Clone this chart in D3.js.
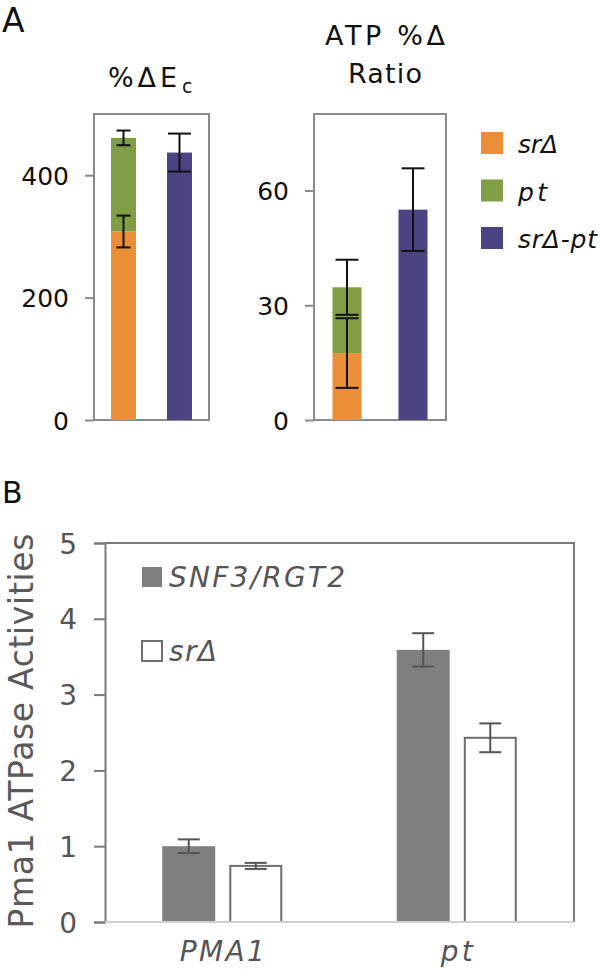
<!DOCTYPE html>
<html>
<head>
<meta charset="utf-8">
<script src="https://cdn.jsdelivr.net/npm/d3@7"></script>
<style>
  body { margin: 0; background: #fff; }
  svg { display: block; font-family: "DejaVu Sans", sans-serif; }
</style>
</head>
<body>
<svg id="chart" width="600" height="974"></svg>
<script>
// ---------- DATA ----------
// Panel A legend series
const aSeries = ["srΔ", "pt", "srΔ-pt"];
// %ΔEc : stacked bar (srΔ, pt) and combined bar (srΔ-pt)
const ecStack = [308, 153];
const ecStackErr = [26, 12];
const ecCombined = [437];
const ecCombinedErr = [31];
const ecTicks = [0, 200, 400];
// ATP %Δ Ratio
const atpStack = [17.5, 17.2];
const atpStackErr = [9.1, 7.2];
const atpCombined = [55];
const atpCombinedErr = [10.8];
const atpTicks = [0, 30, 60];
// Panel B
const bCategories = ["PMA1", "pt"];
const bSeries = ["SNF3/RGT2", "srΔ"];
const bValues = [[1.00, 0.74], [3.59, 2.43]];
const bErrors = [[0.09, 0.04], [0.22, 0.19]];
const bTicks = [0, 1, 2, 3, 4, 5];

// ---------- STYLE ----------
const FONT = "'DejaVu Sans', sans-serif";
const aColors = ["#EA8F37", "#7F9E45", "#4B4482"];
const aLegendWidths = [40, 29, 79];
const bLegendWidths = [176, 48];
const bCatWidths = [85, 32];
const svg = d3.select("#chart");

// ---------- PANEL A ----------
function panelA(cfg) {
  const g = svg.append("g");
  const y = d3.scaleLinear().domain(cfg.domain).range([420, 114]);
  const x = d3.scaleBand().domain(["stack", "combined"])
    .range([cfg.x0, cfg.x1]).paddingInner(cfg.pin).paddingOuter(cfg.pout);

  g.append("rect").attr("x", cfg.x0).attr("y", 114)
    .attr("width", cfg.x1 - cfg.x0).attr("height", 306)
    .attr("fill", "none").attr("stroke", "#8a8a8a").attr("stroke-width", 2);

  const ax = g.append("g").attr("transform", `translate(${cfg.x0},0)`)
    .call(d3.axisLeft(y).tickValues(cfg.ticks).tickSize(9).tickPadding(cfg.pad));
  ax.select(".domain").remove();
  ax.selectAll(".tick line").attr("stroke", "#8a8a8a").attr("stroke-width", 2);
  ax.selectAll(".tick text").attr("fill", "#111").style("font-size", "25px")
    .style("font-family", FONT).attr("dy", "0.36em");

  let cum = 0;
  const stackData = cfg.stack.map((v, i) => { const d = {i, y0: cum, y1: cum + v, err: cfg.stackErr[i]}; cum += v; return d; });
  g.selectAll(".sb").data(stackData).join("rect")
    .attr("x", x("stack")).attr("width", x.bandwidth())
    .attr("y", d => y(d.y1)).attr("height", d => y(d.y0) - y(d.y1))
    .attr("fill", d => aColors[d.i]);
  g.selectAll(".cb").data(cfg.combined).join("rect")
    .attr("x", x("combined")).attr("width", x.bandwidth())
    .attr("y", d => y(d)).attr("height", d => y(0) - y(d))
    .attr("fill", aColors[2]);

  const errs = stackData.map(d => ({cx: x("stack") + x.bandwidth() / 2, v: d.y1, e: d.err, cap: cfg.capS}))
    .concat(cfg.combined.map((v, i) => ({cx: x("combined") + x.bandwidth() / 2, v, e: cfg.combinedErr[i], cap: cfg.capC})));
  const eg = g.selectAll(".err").data(errs).join("g").attr("stroke", "#111").attr("stroke-width", 2);
  eg.append("line").attr("x1", d => d.cx).attr("x2", d => d.cx)
    .attr("y1", d => y(d.v + d.e)).attr("y2", d => y(d.v - d.e));
  eg.append("line").attr("x1", d => d.cx - d.cap / 2).attr("x2", d => d.cx + d.cap / 2)
    .attr("y1", d => y(d.v + d.e)).attr("y2", d => y(d.v + d.e));
  eg.append("line").attr("x1", d => d.cx - d.cap / 2).attr("x2", d => d.cx + d.cap / 2)
    .attr("y1", d => y(d.v - d.e)).attr("y2", d => y(d.v - d.e));
  return g;
}

panelA({domain: [0, 500], x0: 94, x1: 209, pin: 0.554, pout: 0.304, ticks: ecTicks, pad: 16,
  stack: ecStack, stackErr: ecStackErr, combined: ecCombined, combinedErr: ecCombinedErr, capS: 14, capC: 23});
panelA({domain: [0, 80], x0: 314, x1: 446, pin: 0.56, pout: 0.28, ticks: atpTicks, pad: 16,
  stack: atpStack, stackErr: atpStackErr, combined: atpCombined, combinedErr: atpCombinedErr, capS: 23, capC: 23});

// titles
svg.append("text").attr("x", 2).attr("y", 32).text("A")
  .style("font-size", "33px").attr("fill", "#111");
const t1 = svg.append("text").attr("x", 108).attr("y", 87)
  .style("font-size", "27px").attr("fill", "#111");
t1.append("tspan").text("%ΔE").attr("textLength", 69);
t1.append("tspan").text("c").style("font-size", "19px").attr("dy", 6).attr("dx", 1);
svg.append("text").attr("x", 325).attr("y", 45)
  .style("font-size", "27px").attr("fill", "#111").attr("textLength", 120).text("ATP %Δ");
svg.append("text").attr("x", 348).attr("y", 83)
  .style("font-size", "27px").attr("fill", "#111").attr("textLength", 74).text("Ratio");

// legend A
const lgA = svg.append("g").selectAll("g").data(aSeries).join("g")
  .attr("transform", (d, i) => `translate(481,${132 + i * 47.5})`);
lgA.append("rect").attr("width", 22).attr("height", 22).attr("fill", (d, i) => aColors[i]);
lgA.append("text").attr("x", 37).attr("y", 21).text(d => d)
  .attr("textLength", (d, i) => aLegendWidths[i])
  .style("font-size", "25px").style("font-style", "italic").attr("fill", "#111");

// ---------- PANEL B ----------
const bx0 = 105, bx1 = 574, by0 = 922, by1 = 543;
const gB = svg.append("g");
const yB = d3.scaleLinear().domain([0, 5]).range([by0, by1]);
const xB = d3.scaleBand().domain(bCategories).range([bx0, bx1]);
const xB1 = d3.scaleBand().domain(bSeries)
  .range([xB.bandwidth() / 2 - 60, xB.bandwidth() / 2 + 60]).paddingInner(0.21);

svg.append("text").attr("x", 2).attr("y", 503).text("B")
  .style("font-size", "30px").attr("fill", "#111");

gB.append("path").attr("d", `M${bx0},${by1}H${bx1}V${by0}`)
  .attr("fill", "none").attr("stroke", "#7a7a7a").attr("stroke-width", 2);

const axB = gB.append("g").attr("transform", `translate(${bx0},0)`)
  .call(d3.axisLeft(yB).tickValues(bTicks).tickFormat(d3.format("d")).tickSize(11).tickPadding(17));
axB.select(".domain").attr("stroke", "#7a7a7a").attr("stroke-width", 2);
axB.selectAll(".tick line").attr("stroke", "#7a7a7a").attr("stroke-width", 2);
axB.selectAll(".tick text").attr("fill", "#555").style("font-size", "28px")
  .style("font-family", FONT).attr("dy", "0.36em");

const bData = [];
bCategories.forEach((c, ci) => bSeries.forEach((s, si) =>
  bData.push({c, s, si, v: bValues[ci][si], e: bErrors[ci][si]})));
gB.selectAll(".bb").data(bData).join("rect")
  .attr("x", d => xB(d.c) + xB1(d.s) + (d.si ? 1 : 0))
  .attr("width", d => xB1.bandwidth() - (d.si ? 2 : 0))
  .attr("y", d => yB(d.v)).attr("height", d => yB(0) - yB(d.v))
  .attr("fill", d => d.si ? "#fff" : "#7f7f7f")
  .attr("stroke", d => d.si ? "#6e6e6e" : "none").attr("stroke-width", 2);

gB.append("line").attr("x1", bx0).attr("x2", bx1).attr("y1", by0).attr("y2", by0)
  .attr("stroke", "#cfcfcf").attr("stroke-width", 2);

const ebB = gB.selectAll(".eb").data(bData).join("g").attr("stroke", "#555").attr("stroke-width", 2);
const cxB = d => xB(d.c) + xB1(d.s) + xB1.bandwidth() / 2;
ebB.append("line").attr("x1", cxB).attr("x2", cxB)
  .attr("y1", d => yB(d.v + d.e)).attr("y2", d => yB(d.v - d.e));
[1, -1].forEach(sg => ebB.append("line")
  .attr("x1", d => cxB(d) - 11).attr("x2", d => cxB(d) + 11)
  .attr("y1", d => yB(d.v + sg * d.e)).attr("y2", d => yB(d.v + sg * d.e)));

gB.selectAll(".cl").data(bCategories).join("text")
  .attr("x", d => xB(d) + xB.bandwidth() / 2).attr("y", 961)
  .attr("text-anchor", "middle").text(d => d)
  .attr("textLength", (d, i) => bCatWidths[i])
  .style("font-size", "28px").style("font-style", "italic").attr("fill", "#555");

svg.append("text").attr("transform", "translate(33,731) rotate(-90)")
  .attr("text-anchor", "middle").text("Pma1 ATPase Activities")
  .attr("textLength", 395)
  .style("font-size", "33px").attr("fill", "#5a5a5a");

const lgB = svg.append("g").selectAll("g").data(bSeries).join("g")
  .attr("transform", (d, i) => `translate(142,${567 + i * 74})`);
lgB.append("rect").attr("width", 20).attr("height", 20)
  .attr("fill", (d, i) => i ? "#fff" : "#7f7f7f")
  .attr("stroke", (d, i) => i ? "#6e6e6e" : "none").attr("stroke-width", 2);
lgB.append("text").attr("x", 27).attr("y", 20).text(d => d)
  .attr("textLength", (d, i) => bLegendWidths[i])
  .style("font-size", "28px").style("font-style", "italic").attr("fill", "#555");
</script>
</body>
</html>
